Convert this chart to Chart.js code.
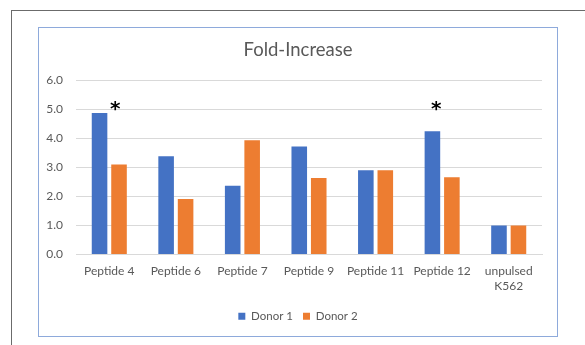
<!DOCTYPE html>
<html>
<head>
<meta charset="utf-8">
<script src="https://cdn.jsdelivr.net/npm/chart.js@4/dist/chart.umd.min.js"></script>
<style>
  html, body { margin: 0; padding: 0; background: #fff; }
  body { width: 585px; height: 345px; position: relative; overflow: hidden; }
  .frame { position: absolute; left: 11px; top: 10px; width: 600px; height: 400px;
           border-top: 1px solid #6b6b6b; border-left: 1px solid #6b6b6b; }
  .box { position: absolute; left: 38px; top: 27px; width: 518px; height: 308px;
         border: 1.5px solid #8eaadb; }
  canvas { position: absolute; left: 0; top: 0; }
</style>
</head>
<body>
<div class="frame"></div>
<div class="box"></div>
<canvas id="c" width="585" height="345"></canvas>
<script>
// Fold increase in response per stimulus, for two donors
const categories = ['Peptide 4', 'Peptide 6', 'Peptide 7', 'Peptide 9', 'Peptide 11', 'Peptide 12', ['unpulsed', 'K562']];
const donor1 = [4.87, 3.38, 2.37, 3.72, 2.90, 4.24, 1.00];
const donor2 = [3.10, 1.91, 3.93, 2.63, 2.90, 2.66, 1.00];
const yTicks = [0, 1, 2, 3, 4, 5, 6];
// Stimuli flagged as significant
const significant = ['Peptide 4', 'Peptide 12'];

const FONT = 'Lato, "Open Sans", sans-serif';
const GREY = '#595959';

// Draws an asterisk above each flagged group
const asteriskPlugin = {
  id: 'asterisks',
  afterDatasetsDraw(chart, args, opts) {
    const { ctx, scales: { x, y } } = chart;
    ctx.save();
    ctx.fillStyle = '#000';
    ctx.font = 'bold 20px "DejaVu Sans", sans-serif';
    ctx.textAlign = 'center';
    ctx.textBaseline = 'middle';
    significant.forEach((name, i) => {
      const idx = categories.findIndex(c => c === name);
      const px = x.getPixelForValue(idx) + opts.offsets[i];
      const py = y.getPixelForValue(opts.level) + opts.lift;
      ctx.fillText('*', px, py);
    });
    ctx.restore();
  }
};

// Centres the title and legend on the framed box rather than on the canvas
const recenterPlugin = {
  id: 'recenter',
  afterLayout(chart, args, opts) {
    [chart.titleBlock, chart.legend].forEach(box => {
      if (!box) return;
      const d = opts.center - (box.left + box.right) / 2;
      box.left += d;
      box.right += d;
    });
  }
};

new Chart(document.getElementById('c'), {
  type: 'bar',
  data: {
    labels: categories,
    datasets: [
      { label: 'Donor 1', data: donor1, backgroundColor: '#4472c4' },
      { label: 'Donor 2', data: donor2, backgroundColor: '#ed7d31' }
    ]
  },
  plugins: [asteriskPlugin, recenterPlugin],
  options: {
    responsive: false,
    animation: false,
    devicePixelRatio: 1,
    layout: { padding: { left: 0, right: 43, top: 0, bottom: 13 } },
    datasets: { bar: { categoryPercentage: 0.585, barPercentage: 0.8 } },
    plugins: {
      title: {
        display: true,
        text: 'Fold-Increase',
        color: GREY,
        font: { family: FONT, size: 18.5, weight: 'normal' },
        padding: { top: 39, bottom: 19 }
      },
      legend: {
        position: 'bottom',
        labels: {
          boxWidth: 7, boxHeight: 7, padding: 10,
          color: GREY,
          font: { family: FONT, size: 11.5 }
        }
      },
      tooltip: { enabled: false },
      asterisks: { offsets: [6, -6], level: 5.0, lift: 1 },
      recenter: { center: 298 }
    },
    scales: {
      x: {
        grid: { display: false, drawTicks: false },
        border: { display: true, color: '#d9d9d9' },
        ticks: { color: GREY, font: { family: FONT, size: 12, lineHeight: 1.25 }, padding: 9, maxRotation: 0, autoSkip: false },
        afterFit(scale) { scale.height = 46; }
      },
      y: {
        min: 0, max: 6,
        afterBuildTicks(scale) { scale.ticks = yTicks.map(v => ({ value: v })); },
        grid: { color: '#d9d9d9', drawTicks: false },
        border: { display: false },
        ticks: { color: GREY, font: { family: FONT, size: 12 }, padding: 13, callback: v => v.toFixed(1) },
        afterFit(scale) { scale.width = 76; }
      }
    }
  }
});
</script>
</body>
</html>
